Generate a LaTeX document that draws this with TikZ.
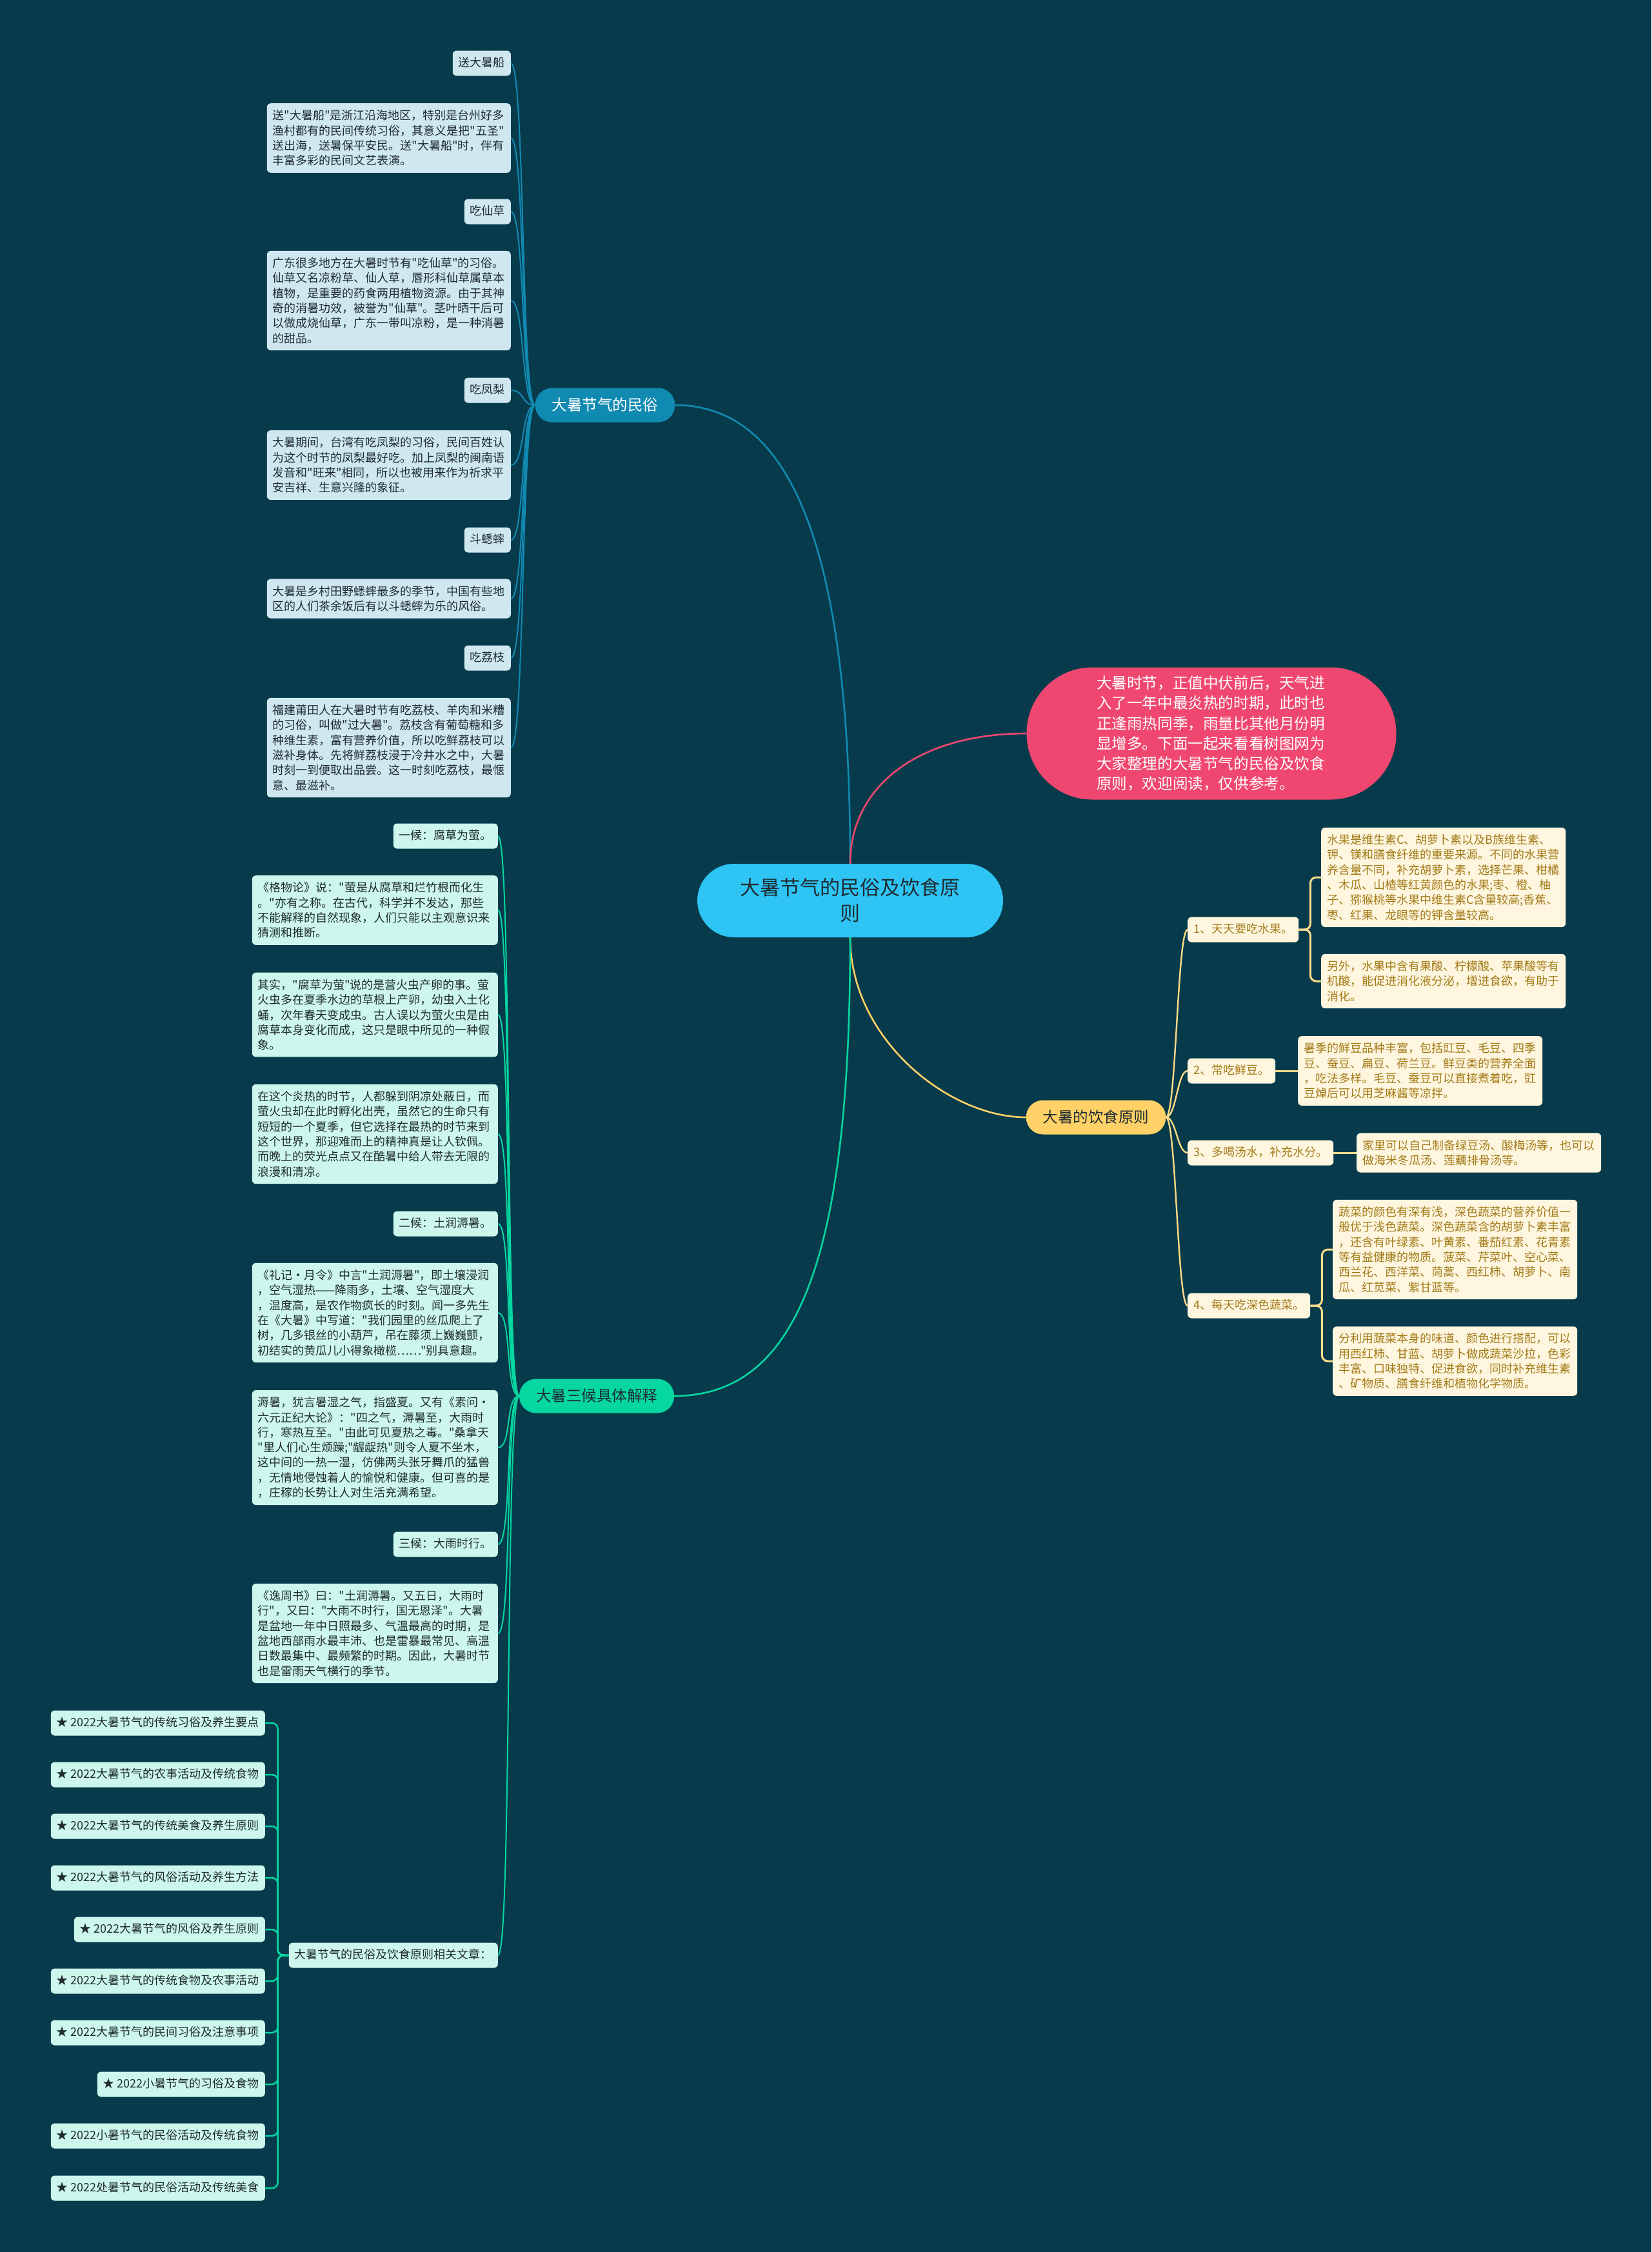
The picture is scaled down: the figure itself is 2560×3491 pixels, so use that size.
\documentclass[tikz,border=0pt]{standalone}
\usepackage{fontspec}
\newfontfamily\cjk{Noto Sans CJK SC}
\usepackage{tikz}
\usetikzlibrary{positioning}
\definecolor{bg}{HTML}{073B4C}
\definecolor{core}{HTML}{2EC4F4}
\definecolor{folk}{HTML}{118AB2}
\definecolor{intro}{HTML}{EF476F}
\definecolor{diet}{HTML}{FFD166}
\definecolor{hou}{HTML}{06D6A0}
\definecolor{ink}{HTML}{1F2B31}
\definecolor{gold}{HTML}{A27A16}

\newcommand\leaffont{\cjk\fontsize{18}{23.3}\selectfont}
\newcommand\branchfont{\cjk\fontsize{23.5}{30}\selectfont}
\newcommand\corefont{\cjk\fontsize{31}{40}\selectfont}
\newcommand\introfont{\cjk\fontsize{23.6}{31.2}\selectfont}

\begin{document}
\begin{tikzpicture}[
  x=1pt, y=-1pt,
  branch/.style={fill=#1, rounded corners=26pt, font=\branchfont, minimum height=53pt, inner xsep=26pt, inner ysep=0pt},
  leaf/.style={fill=#1!20!white, rounded corners=6pt, font=\leaffont, text=ink, inner xsep=9pt, inner ysep=10.5pt},
  tag/.style={text height=14.5pt, text depth=3.5pt},
  para/.style={text width=#1, align=left},
  link/.style={draw=#1, line width=2.6pt},
  twigl/.style={draw=#1, line width=2pt, to path={.. controls +(-22,0) and +(22,0) .. (\tikztotarget)}},
  twigr/.style={draw=#1, line width=2.4pt, to path={.. controls +(16,0) and +(-16,0) .. (\tikztotarget)}},
  brace/.style={draw=#1, line width=3pt, rounded corners=9pt}
]
  \useasboundingbox (0,0) rectangle (2560,3491);
  \fill[bg] (0,0) rectangle (2560,3491);

  % centre and intro
  \node[fill=core, rounded corners=57pt, minimum width=474pt, minimum height=114pt, font=\corefont, text=ink, align=center] (core) at (1318,1396) {大暑节气的民俗及饮食原\\则};
  \node[fill=intro, rounded corners=102pt, minimum width=573pt, minimum height=205pt, font=\introfont, text=white, text width=356pt, align=left] (intro) at (1878,1137) {大暑时节，正值中伏前后，天气进\\入了一年中最炎热的时期，此时也\\正逢雨热同季，雨量比其他月份明\\显增多。下面一起来看看树图网为\\大家整理的大暑节气的民俗及饮食\\原则，欢迎阅读，仅供参考。};

  % main branches
  \node[branch=folk, text=white] (folk) at (938,628) {大暑节气的民俗};
  \node[branch=diet, text=ink] (diet) at (1699,1732) {大暑的饮食原则};
  \node[branch=hou, text=ink] (hou) at (925,2164) {大暑三候具体解释};

  \draw[link=folk] (core.north) .. controls (1318,806) and (1208,628) .. (folk.east);
  \draw[link=intro] (core.north) .. controls (1318,1217) and (1426,1137) .. (intro.west);
  \draw[link=diet] (core.south) .. controls (1318,1610) and (1470,1732) .. (diet.west);
  \draw[link=hou] (core.south) .. controls (1318,1951) and (1236,2164) .. (hou.east);

  % folk customs
  \node[leaf=folk, tag, anchor=east] (boat) at (792,98) {送大暑船};
  \node[leaf=folk, para=360pt, anchor=east] (boattxt) at (792,214) {送"大暑船"是浙江沿海地区，特别是台州好多\\渔村都有的民间传统习俗，其意义是把"五圣"\\送出海，送暑保平安民。送"大暑船"时，伴有\\丰富多彩的民间文艺表演。};
  \node[leaf=folk, tag, anchor=east] (grass) at (792,328) {吃仙草};
  \node[leaf=folk, para=360pt, anchor=east] (grasstxt) at (792,466) {广东很多地方在大暑时节有"吃仙草"的习俗。\\仙草又名凉粉草、仙人草，唇形科仙草属草本\\植物，是重要的药食两用植物资源。由于其神\\奇的消暑功效，被誉为"仙草"。茎叶晒干后可\\以做成烧仙草，广东一带叫凉粉，是一种消暑\\的甜品。};
  \node[leaf=folk, tag, anchor=east] (pine) at (792,605) {吃凤梨};
  \node[leaf=folk, para=360pt, anchor=east] (pinetxt) at (792,721) {大暑期间，台湾有吃凤梨的习俗，民间百姓认\\为这个时节的凤梨最好吃。加上凤梨的闽南语\\发音和"旺来"相同，所以也被用来作为祈求平\\安吉祥、生意兴隆的象征。};
  \node[leaf=folk, tag, anchor=east] (cricket) at (792,837) {斗蟋蟀};
  \node[leaf=folk, para=360pt, anchor=east] (crickettxt) at (792,928) {大暑是乡村田野蟋蟀最多的季节，中国有些地\\区的人们茶余饭后有以斗蟋蟀为乐的风俗。};
  \node[leaf=folk, tag, anchor=east] (lychee) at (792,1020) {吃荔枝};
  \node[leaf=folk, para=360pt, anchor=east] (lycheetxt) at (792,1159) {福建莆田人在大暑时节有吃荔枝、羊肉和米糟\\的习俗，叫做"过大暑"。荔枝含有葡萄糖和多\\种维生素，富有营养价值，所以吃鲜荔枝可以\\滋补身体。先将鲜荔枝浸于冷井水之中，大暑\\时刻一到便取出品尝。这一时刻吃荔枝，最惬\\意、最滋补。};

  \draw[twigl=folk] (folk.west) to (boat.east);
  \draw[twigl=folk] (folk.west) to (boattxt.east);
  \draw[twigl=folk] (folk.west) to (grass.east);
  \draw[twigl=folk] (folk.west) to (grasstxt.east);
  \draw[twigl=folk] (folk.west) to (pine.east);
  \draw[twigl=folk] (folk.west) to (pinetxt.east);
  \draw[twigl=folk] (folk.west) to (cricket.east);
  \draw[twigl=folk] (folk.west) to (crickettxt.east);
  \draw[twigl=folk] (folk.west) to (lychee.east);
  \draw[twigl=folk] (folk.west) to (lycheetxt.east);

  % three pentads
  \node[leaf=hou, tag, anchor=east] (hou1) at (772,1296) {一候：腐草为萤。};
  \node[leaf=hou, para=363pt, anchor=east] (hou1a) at (772,1411) {《格物论》说："萤是从腐草和烂竹根而化生\\。"亦有之称。在古代，科学并不发达，那些\\不能解释的自然现象，人们只能以主观意识来\\猜测和推断。};
  \node[leaf=hou, para=363pt, anchor=east] (hou1b) at (772,1573) {其实，"腐草为萤"说的是营火虫产卵的事。萤\\火虫多在夏季水边的草根上产卵，幼虫入土化\\蛹，次年春天变成虫。古人误以为萤火虫是由\\腐草本身变化而成，这只是眼中所见的一种假\\象。};
  \node[leaf=hou, para=363pt, anchor=east] (hou1c) at (772,1758) {在这个炎热的时节，人都躲到阴凉处蔽日，而\\萤火虫却在此时孵化出壳，虽然它的生命只有\\短短的一个夏季，但它选择在最热的时节来到\\这个世界，那迎难而上的精神真是让人钦佩。\\而晚上的荧光点点又在酷暑中给人带去无限的\\浪漫和清凉。};
  \node[leaf=hou, tag, anchor=east] (hou2) at (772,1897) {二候：土润溽暑。};
  \node[leaf=hou, para=363pt, anchor=east] (hou2a) at (772,2035) {《礼记·月令》中言"土润溽暑"，即土壤浸润\\，空气湿热——降雨多，土壤、空气湿度大\\，温度高，是农作物疯长的时刻。闻一多先生\\在《大暑》中写道："我们园里的丝瓜爬上了\\树，几多银丝的小葫芦，吊在藤须上巍巍颤，\\初结实的黄瓜儿小得象橄榄……"别具意趣。};
  \node[leaf=hou, para=363pt, anchor=east] (hou2b) at (772,2244) {溽暑，犹言暑湿之气，指盛夏。又有《素问·\\六元正纪大论》："四之气，溽暑至，大雨时\\行，寒热互至。"由此可见夏热之毒。"桑拿天\\"里人们心生烦躁;"龌龊热"则令人夏不坐木，\\这中间的一热一湿，仿佛两头张牙舞爪的猛兽\\，无情地侵蚀着人的愉悦和健康。但可喜的是\\，庄稼的长势让人对生活充满希望。};
  \node[leaf=hou, tag, anchor=east] (hou3) at (772,2394) {三候：大雨时行。};
  \node[leaf=hou, para=363pt, anchor=east] (hou3a) at (772,2532) {《逸周书》曰："土润溽暑。又五日，大雨时\\行"，又曰："大雨不时行，国无恩泽"。大暑\\是盆地一年中日照最多、气温最高的时期，是\\盆地西部雨水最丰沛、也是雷暴最常见、高温\\日数最集中、最频繁的时期。因此，大暑时节\\也是雷雨天气横行的季节。};
  \node[leaf=hou, tag, anchor=east] (rel) at (772,3031) {大暑节气的民俗及饮食原则相关文章：};

  \draw[twigl=hou] (hou.west) to (hou1.east);
  \draw[twigl=hou] (hou.west) to (hou1a.east);
  \draw[twigl=hou] (hou.west) to (hou1b.east);
  \draw[twigl=hou] (hou.west) to (hou1c.east);
  \draw[twigl=hou] (hou.west) to (hou2.east);
  \draw[twigl=hou] (hou.west) to (hou2a.east);
  \draw[twigl=hou] (hou.west) to (hou2b.east);
  \draw[twigl=hou] (hou.west) to (hou3.east);
  \draw[twigl=hou] (hou.west) to (hou3a.east);
  \draw[twigl=hou] (hou.west) to (rel.east);

  % related articles
  \node[leaf=hou, tag, anchor=east] (art1) at (411,2671) {★ 2022大暑节气的传统习俗及养生要点};
  \node[leaf=hou, tag, anchor=east] (art2) at (411,2751) {★ 2022大暑节气的农事活动及传统食物};
  \node[leaf=hou, tag, anchor=east] (art3) at (411,2831) {★ 2022大暑节气的传统美食及养生原则};
  \node[leaf=hou, tag, anchor=east] (art4) at (411,2911) {★ 2022大暑节气的风俗活动及养生方法};
  \node[leaf=hou, tag, anchor=east] (art5) at (411,2991) {★ 2022大暑节气的风俗及养生原则};
  \node[leaf=hou, tag, anchor=east] (art6) at (411,3071) {★ 2022大暑节气的传统食物及农事活动};
  \node[leaf=hou, tag, anchor=east] (art7) at (411,3151) {★ 2022大暑节气的民间习俗及注意事项};
  \node[leaf=hou, tag, anchor=east] (art8) at (411,3231) {★ 2022小暑节气的习俗及食物};
  \node[leaf=hou, tag, anchor=east] (art9) at (411,3311) {★ 2022小暑节气的民俗活动及传统食物};
  \node[leaf=hou, tag, anchor=east] (art10) at (411,3392) {★ 2022处暑节气的民俗活动及传统美食};

  \draw[brace=hou, line width=2.5pt] (rel.west) -- ++(-17,0) |- (art1.east);
  \draw[brace=hou, line width=2.5pt] (rel.west) -- ++(-17,0) |- (art2.east);
  \draw[brace=hou, line width=2.5pt] (rel.west) -- ++(-17,0) |- (art3.east);
  \draw[brace=hou, line width=2.5pt] (rel.west) -- ++(-17,0) |- (art4.east);
  \draw[brace=hou, line width=2.5pt] (rel.west) -- ++(-17,0) |- (art5.east);
  \draw[brace=hou, line width=2.5pt] (rel.west) -- ++(-17,0) |- (art6.east);
  \draw[brace=hou, line width=2.5pt] (rel.west) -- ++(-17,0) |- (art7.east);
  \draw[brace=hou, line width=2.5pt] (rel.west) -- ++(-17,0) |- (art8.east);
  \draw[brace=hou, line width=2.5pt] (rel.west) -- ++(-17,0) |- (art9.east);
  \draw[brace=hou, line width=2.5pt] (rel.west) -- ++(-17,0) |- (art10.east);

  % diet principles
  \node[leaf=diet, tag, text=gold, anchor=west] (fruit) at (1841,1441) {1、天天要吃水果。};
  \node[leaf=diet, para=361pt, text=gold, anchor=west] (fruita) at (2048,1360) {水果是维生素C、胡萝卜素以及B族维生素、\\钾、镁和膳食纤维的重要来源。不同的水果营\\养含量不同，补充胡萝卜素，选择芒果、柑橘\\、木瓜、山楂等红黄颜色的水果;枣、橙、柚\\子、猕猴桃等水果中维生素C含量较高;香蕉、\\枣、红果、龙眼等的钾含量较高。};
  \node[leaf=diet, para=361pt, text=gold, anchor=west] (fruitb) at (2048,1521) {另外，水果中含有果酸、柠檬酸、苹果酸等有\\机酸，能促进消化液分泌，增进食欲，有助于\\消化。};
  \node[leaf=diet, tag, text=gold, anchor=west] (bean) at (1841,1660) {2、常吃鲜豆。};
  \node[leaf=diet, para=361pt, text=gold, anchor=west] (beana) at (2012,1660) {暑季的鲜豆品种丰富，包括豇豆、毛豆、四季\\豆、蚕豆、扁豆、荷兰豆。鲜豆类的营养全面\\，吃法多样。毛豆、蚕豆可以直接煮着吃，豇\\豆焯后可以用芝麻酱等凉拌。};
  \node[leaf=diet, tag, text=gold, anchor=west] (soup) at (1841,1787) {3、多喝汤水，补充水分。};
  \node[leaf=diet, para=361pt, text=gold, anchor=west] (soupa) at (2103,1787) {家里可以自己制备绿豆汤、酸梅汤等，也可以\\做海米冬瓜汤、莲藕排骨汤等。};
  \node[leaf=diet, tag, text=gold, anchor=west] (veg) at (1841,2024) {4、每天吃深色蔬菜。};
  \node[leaf=diet, para=361pt, text=gold, anchor=west] (vega) at (2066,1937) {蔬菜的颜色有深有浅，深色蔬菜的营养价值一\\般优于浅色蔬菜。深色蔬菜含的胡萝卜素丰富\\，还含有叶绿素、叶黄素、番茄红素、花青素\\等有益健康的物质。菠菜、芹菜叶、空心菜、\\西兰花、西洋菜、茼蒿、西红柿、胡萝卜、南\\瓜、红苋菜、紫甘蓝等。};
  \node[leaf=diet, para=361pt, text=gold, anchor=west] (vegb) at (2066,2110) {分利用蔬菜本身的味道、颜色进行搭配，可以\\用西红柿、甘蓝、胡萝卜做成蔬菜沙拉，色彩\\丰富、口味独特、促进食欲，同时补充维生素\\、矿物质、膳食纤维和植物化学物质。};

  \draw[twigr=diet!80!white] (diet.east) to (fruit.west);
  \draw[twigr=diet!80!white] (diet.east) to (bean.west);
  \draw[twigr=diet!80!white] (diet.east) to (soup.west);
  \draw[twigr=diet!80!white] (diet.east) to (veg.west);

  \draw[brace=diet!75!white] (fruit.east) -- ++(18,0) |- (fruita.west);
  \draw[brace=diet!75!white] (fruit.east) -- ++(18,0) |- (fruitb.west);
  \draw[brace=diet!75!white] (bean.east) -- (beana.west);
  \draw[brace=diet!75!white] (soup.east) -- (soupa.west);
  \draw[brace=diet!75!white] (veg.east) -- ++(18,0) |- (vega.west);
  \draw[brace=diet!75!white] (veg.east) -- ++(18,0) |- (vegb.west);
\end{tikzpicture}
\end{document}
